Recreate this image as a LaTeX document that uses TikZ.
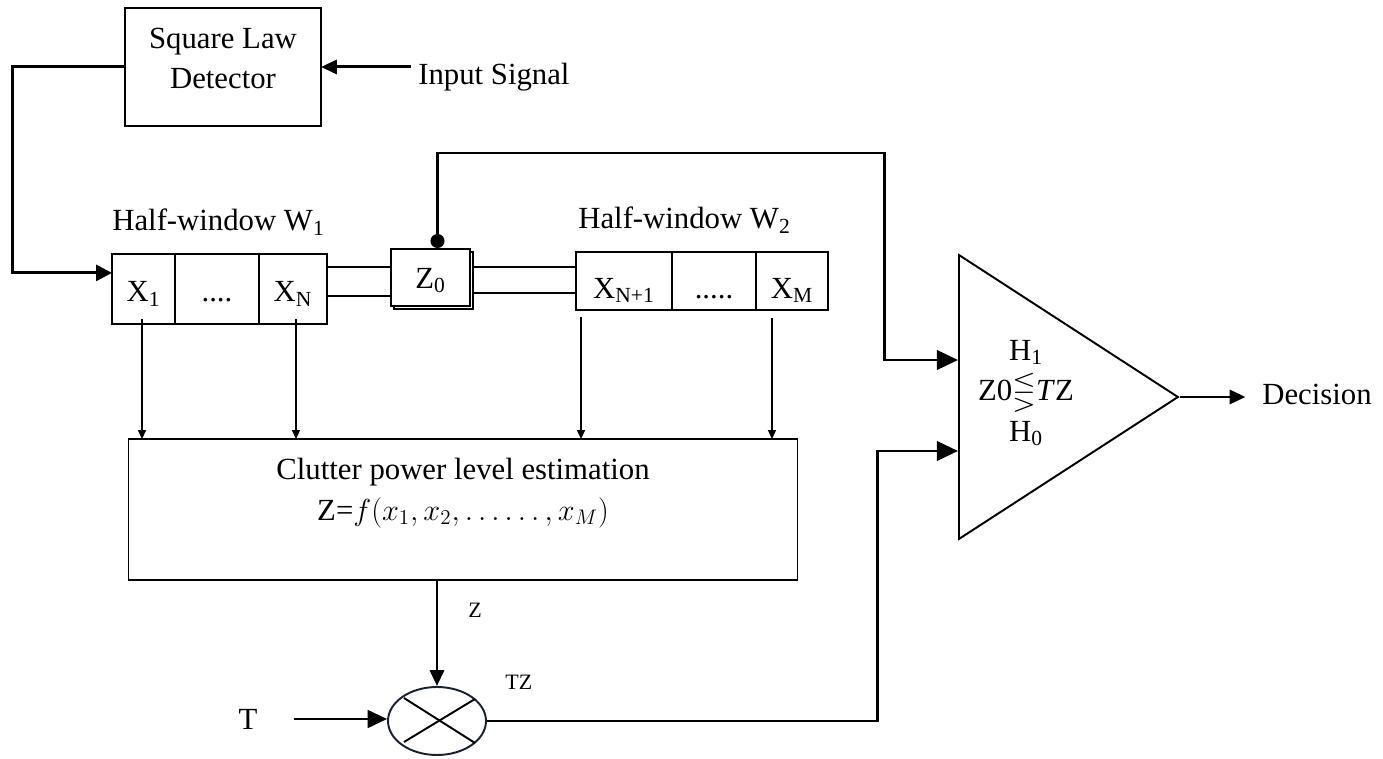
\documentclass[tikz,border=0pt]{standalone}
\usepackage{fontspec}
\setmainfont{Liberation Serif}
\usepackage{amssymb}
\usepackage{amsmath}
\usetikzlibrary{shapes.geometric,arrows.meta,positioning,shadows,calc}
\definecolor{ringnavy}{RGB}{25,32,52}
\newcommand{\lblfont}{\fontsize{17.5}{23}\selectfont}
\newcommand{\smlfont}{\fontsize{12.5}{15}\selectfont}

\begin{document}
\begin{tikzpicture}[x=0.02cm, y=-0.02cm,
blk/.style={draw, line width=0.8pt, inner sep=0pt, outer sep=0pt, font=\lblfont, align=center, text depth=0pt},
cell/.style={draw, line width=1.3pt, inner sep=0pt, outer sep=0pt, font=\lblfont, text depth=0pt},
txt/.style={inner sep=0pt, font=\lblfont},
stxt/.style={inner sep=0pt, font=\smlfont},
tline/.style={line width=1.7pt},
dline/.style={line width=1.3pt},
tarrow/.style={-{Triangle[length=9pt,width=8pt]}, line width=1.7pt},
barrow/.style={-{Triangle[length=12pt,width=11pt]}, line width=1.7pt},
farrow/.style={-{Triangle[length=5pt,width=4.5pt]}, line width=0.7pt}
]
\useasboundingbox (0,0) rectangle (1383,759);

% detector and input
\node[blk, minimum width=3.92cm, minimum height=2.36cm, text height=25pt] (sld) at (223,67) {Square Law\\Detector};
\node[txt, anchor=base west] (insig) at (418,85) {Input Signal};
\draw[tarrow, shorten <=4pt] (insig.west |- sld.east) -- (sld.east);

% half window W1
\node[txt, anchor=base west] (hw1) at (112,231) {Half-window W\textsubscript{1}};
\node[cell, minimum width=1.26cm, minimum height=1.4cm, text height=14.8pt] (x1) at (143.5,289) {X\textsubscript{1}};
\node[cell, minimum width=1.68cm, minimum height=1.4cm, text height=14.8pt, right=0pt of x1] (dots1) {....};
\node[cell, minimum width=1.36cm, minimum height=1.4cm, text height=14.8pt, right=0pt of dots1] (xn) {X\textsubscript{N}};

% cell under test
\node[cell, line width=0.8pt, fill=white, minimum width=1.58cm, minimum height=1.14cm, text height=12pt,
copy shadow={shadow xshift=1.6pt, shadow yshift=-1.6pt, draw, line width=1.2pt}] (z0) at (430.5,277.5) {Z\textsubscript{0}};

% half window W2
\node[txt, anchor=base west] (hw2) at (578,229) {Half-window W\textsubscript{2}};
\node[cell, minimum width=1.92cm, minimum height=1.16cm, text height=19.4pt] (xn1) at (624,281) {X\textsubscript{N+1}};
\node[cell, minimum width=1.68cm, minimum height=1.16cm, text height=19.4pt, right=0pt of xn1] (dots2) {.....};
\node[cell, minimum width=1.44cm, minimum height=1.16cm, text height=19.4pt, right=0pt of dots2] (xm) {X\textsubscript{M}};

% estimator, multiplier, comparator
\node[blk, line width=0.6pt, minimum width=13.4cm, minimum height=2.82cm, text height=12pt] (clut) at (463,509.5)
{Clutter power level estimation\\Z=$f(x_1,x_2,\ldots\ldots,x_M)$};
\node[draw=ringnavy, ellipse, line width=1.1pt, minimum width=1.96cm, minimum height=1.36cm, inner sep=0pt] (mult) at (437,721) {};
\draw[line width=1.1pt] ($(mult)+(-33,-23)$) -- ($(mult)+(38,22)$);
\draw[line width=1.1pt] ($(mult)+(-33,21)$) -- ($(mult)+(38,-22)$);
\node[draw, isosceles triangle, isosceles triangle stretches, shape border rotate=0, line width=1.1pt,
minimum width=5.68cm, minimum height=4.38cm, inner sep=0pt, anchor=lower side] (cmp) at (958,397) {};
\node[txt, align=center] (cmplbl) at (1026,393) {H\textsubscript{1}\\Z0$\lesseqgtr$\textit{T}Z\\H\textsubscript{0}};
\node[txt, anchor=base west] (dec) at (1262,405) {Decision};
\node[txt, anchor=base] (tin) at (248,730) {T};
\node[stxt, anchor=base west] (zlbl) at (468,618) {Z};
\node[stxt, anchor=base west] (tzlbl) at (505,690) {TZ};

\coordinate (x1in) at ($(x1.north west)!0.27!(x1.south west)$);
\coordinate (l1) at ($(xn.north east)!0.19!(xn.south east)$);
\coordinate (l2) at ($(xn.north east)!0.6!(xn.south east)$);
\coordinate (r1) at ($(xn1.north west)!0.26!(xn1.south west)$);
\coordinate (r2) at ($(xn1.north west)!0.71!(xn1.south west)$);
\coordinate (tap) at ($(z0.north)+(7,-8)$);
\coordinate (in1) at ($(cmp.lower side)+(0,-37)$);
\coordinate (in2) at ($(cmp.lower side)+(0,54)$);

% connections
\draw[barrow, -{Triangle[length=9pt,width=9pt]}] (sld.west) -- ++(-113,0) |- (x1in);
\draw[dline] (l1) -- (l1 -| z0.west);
\draw[dline] (l2) -- (l2 -| z0.west);
\draw[dline] ($(r1 -| z0.east)+(2,0)$) -- (r1);
\draw[dline] ($(r2 -| z0.east)+(2,0)$) -- (r2);
\fill (tap) circle (4pt);
\draw[barrow] (tap) -- ++(0,-88) -| ($(in1)+(-74,0)$) -- (in1);

\draw[farrow] ($(x1.south)+(-1.5,-5)$) -- ($(x1.south |- clut.north)+(-1.5,0)$);
\draw[farrow] ($(xn.south)+(3,-5)$) -- ($(xn.south |- clut.north)+(3,0)$);
\draw[farrow] ($(xn1.south west)+(5,7)$) -- ($(xn1.south west |- clut.north)+(5,0)$);
\draw[farrow] ($(xm.south west)+(16,8)$) -- ($(xm.south west |- clut.north)+(16,0)$);

\draw[tarrow] (clut.south -| mult.north) -- (mult.north);
\draw[barrow, -{Triangle[length=11pt,width=10pt]}] ($(tin.east |- mult.west)+(36,-2)$) -- ($(mult.west)+(0,-2)$);
\draw[barrow] (mult.east) -- ++(391,0) |- (in2);
\draw[tarrow] (cmp.apex) -- ++(65,0);
\end{tikzpicture}
\end{document}
